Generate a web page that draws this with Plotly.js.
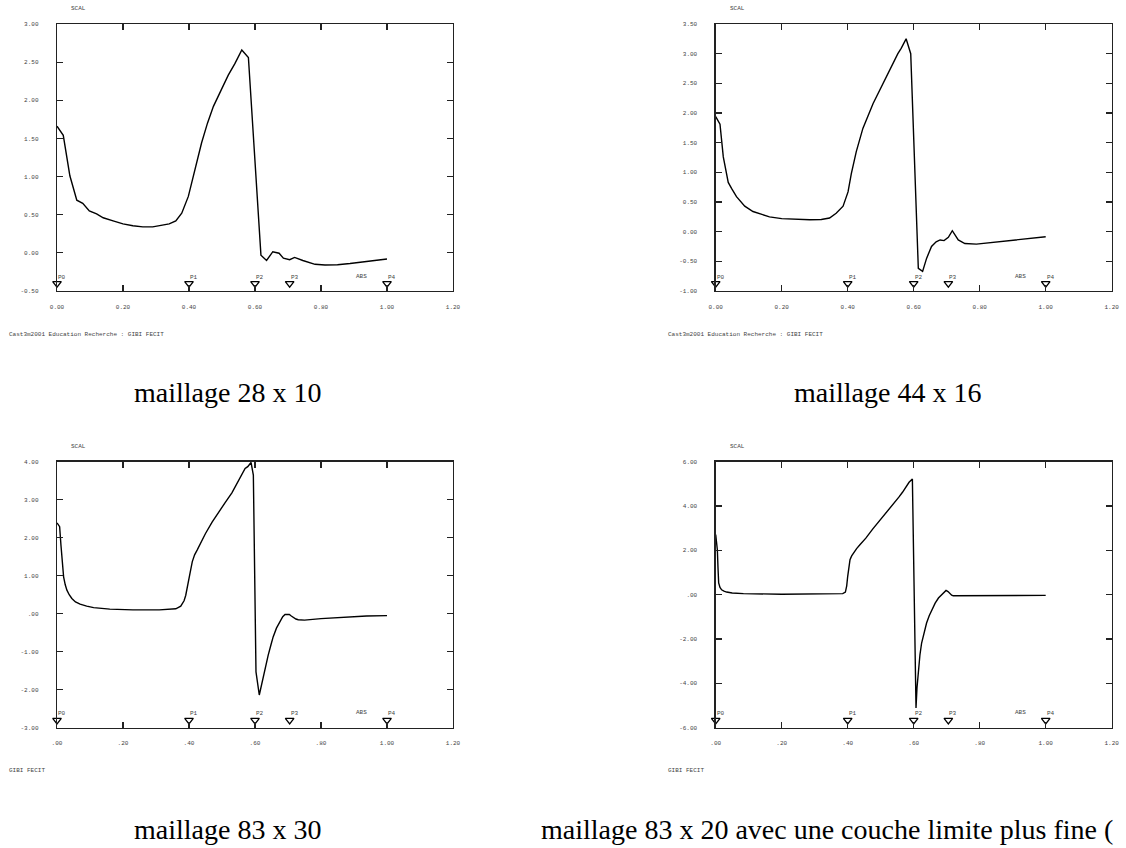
<!DOCTYPE html>
<html>
<head>
<meta charset="utf-8">
<script src="https://cdn.plot.ly/plotly-3.0.1.min.js"></script>
<style>html,body{margin:0;padding:0;background:#fff;}#chart{width:1126px;height:848px;}</style>
</head>
<body>
<div id="chart"></div>
<script>
// ---- data ----
var abs1 = [0.000,0.019,0.039,0.060,0.078,0.098,0.120,0.140,0.170,0.200,0.230,0.260,0.290,0.320,0.340,0.360,0.378,0.398,0.418,0.438,0.456,0.474,0.497,0.519,0.539,0.560,0.580,0.618,0.635,0.654,0.673,0.686,0.705,0.720,0.745,0.782,0.812,0.850,0.888,0.925,0.958,1.000];
var scal1 = [1.66,1.54,1.01,0.69,0.65,0.55,0.51,0.46,0.42,0.38,0.355,0.34,0.34,0.36,0.38,0.42,0.52,0.74,1.09,1.44,1.70,1.92,2.13,2.33,2.48,2.66,2.56,-0.03,-0.10,0.015,-0.005,-0.07,-0.09,-0.06,-0.10,-0.15,-0.16,-0.155,-0.14,-0.12,-0.10,-0.08];

var abs2 = [0.000,0.013,0.023,0.038,0.048,0.063,0.088,0.113,0.140,0.163,0.200,0.234,0.285,0.320,0.345,0.365,0.386,0.401,0.411,0.426,0.446,0.477,0.507,0.530,0.552,0.562,0.577,0.591,0.614,0.627,0.639,0.654,0.668,0.680,0.692,0.705,0.717,0.735,0.755,0.790,0.841,0.920,1.000];
var scal2 = [1.94,1.81,1.26,0.83,0.73,0.59,0.43,0.34,0.29,0.25,0.22,0.21,0.20,0.205,0.23,0.31,0.43,0.67,0.98,1.35,1.74,2.16,2.50,2.76,3.00,3.09,3.25,3.00,-0.62,-0.67,-0.45,-0.25,-0.17,-0.14,-0.15,-0.095,0.016,-0.14,-0.20,-0.21,-0.18,-0.13,-0.085];

var abs3 = [0.000,0.008,0.012,0.015,0.020,0.025,0.030,0.037,0.045,0.056,0.070,0.090,0.111,0.160,0.230,0.310,0.360,0.375,0.385,0.390,0.395,0.399,0.403,0.410,0.417,0.425,0.437,0.450,0.470,0.490,0.510,0.530,0.550,0.570,0.578,0.588,0.595,0.603,0.613,0.618,0.625,0.632,0.640,0.648,0.655,0.665,0.676,0.684,0.691,0.698,0.704,0.710,0.716,0.724,0.731,0.750,0.800,0.858,0.938,1.000];
var scal3 = [2.39,2.29,1.80,1.41,0.97,0.76,0.62,0.50,0.40,0.31,0.25,0.20,0.16,0.12,0.10,0.10,0.13,0.20,0.34,0.48,0.67,0.87,1.06,1.37,1.55,1.68,1.90,2.11,2.41,2.68,2.93,3.18,3.50,3.82,3.87,3.98,3.65,-1.53,-2.14,-1.95,-1.61,-1.33,-1.09,-0.83,-0.61,-0.38,-0.21,-0.08,-0.02,-0.01,-0.02,-0.06,-0.10,-0.14,-0.16,-0.17,-0.13,-0.10,-0.06,-0.05];

var abs4 = [0.000,0.005,0.007,0.009,0.013,0.018,0.025,0.033,0.050,0.084,0.200,0.300,0.366,0.385,0.393,0.397,0.400,0.404,0.407,0.412,0.417,0.427,0.437,0.455,0.475,0.495,0.515,0.535,0.555,0.566,0.576,0.586,0.596,0.607,0.610,0.614,0.619,0.624,0.631,0.639,0.647,0.655,0.665,0.675,0.687,0.698,0.704,0.710,0.715,0.720,0.800,0.900,1.000];
var scal4 = [2.71,2.03,1.20,0.53,0.33,0.22,0.16,0.12,0.08,0.05,0.02,0.02,0.03,0.05,0.12,0.40,0.83,1.30,1.58,1.75,1.88,2.08,2.25,2.55,2.95,3.30,3.65,4.00,4.40,4.62,4.85,5.07,5.22,-5.11,-4.20,-3.38,-2.70,-2.18,-1.70,-1.28,-0.95,-0.68,-0.38,-0.15,0.05,0.19,0.14,0.04,-0.02,-0.05,-0.05,-0.04,-0.03];

var pointNames = ["P0","P1","P2","P3","P4"];
var pointAbs = [0.0, 0.4, 0.6, 0.705, 1.0];

var xTickVals = [0,0.2,0.4,0.6,0.8,1.0,1.2];
var xTickTextA = ["0.00","0.20","0.40","0.60","0.80","1.00","1.20"];
var xTickTextB = [".00",".20",".40",".60",".80","1.00","1.20"];

var yTickVals1 = [-0.5,0,0.5,1,1.5,2,2.5,3];
var yTickText1 = ["-0.50","0.00","0.50","1.00","1.50","2.00","2.50","3.00"];
var yTickVals2 = [-1,-0.5,0,0.5,1,1.5,2,2.5,3,3.5];
var yTickText2 = ["-1.00","-0.50","0.00","0.50","1.00","1.50","2.00","2.50","3.00","3.50"];
var yTickVals3 = [-3,-2,-1,0,1,2,3,4];
var yTickText3 = ["-3.00","-2.00","-1.00",".00","1.00","2.00","3.00","4.00"];
var yTickVals4 = [-6,-4,-2,0,2,4,6];
var yTickText4 = ["-6.00","-4.00","-2.00",".00","2.00","4.00","6.00"];

var captions = ["maillage 28 x 10","maillage 44 x 16","maillage 83 x 30","maillage 83 x 20 avec une couche limite plus fine ("];
var footers = ["Cast3m2001 Education Recherche : GIBI FECIT","Cast3m2001 Education Recherche : GIBI FECIT","GIBI FECIT","GIBI FECIT"];

// ---- layout ----
var W = 1126, H = 848;
var monoFont = {family: "Liberation Mono, DejaVu Sans Mono, monospace", size: 6, color: "#444"};
var panels = [
  {x: abs1, y: scal1, yv: yTickVals1, yt: yTickText1, xt: xTickTextA, xd: [57, 453], yd: [24, 291]},
  {x: abs2, y: scal2, yv: yTickVals2, yt: yTickText2, xt: xTickTextA, xd: [715.7, 1111.7], yd: [24, 291]},
  {x: abs3, y: scal3, yv: yTickVals3, yt: yTickText3, xt: xTickTextB, xd: [57, 453], yd: [461.7, 727.7]},
  {x: abs4, y: scal4, yv: yTickVals4, yt: yTickText4, xt: xTickTextB, xd: [715.7, 1111.7], yd: [461.7, 727.7]}
];

var data = [];
var layout = {
  width: W, height: H,
  margin: {l: 0, r: 0, t: 0, b: 0},
  paper_bgcolor: "#fff", plot_bgcolor: "#fff",
  showlegend: false,
  annotations: []
};

panels.forEach(function(p, i) {
  var n = i + 1;
  var xa = n === 1 ? "x" : "x" + n;
  var ya = n === 1 ? "y" : "y" + n;
  var ymin = p.yv[0], ymax = p.yv[p.yv.length - 1];
  data.push({
    type: "scatter", mode: "lines", x: p.x, y: p.y, xaxis: xa, yaxis: ya,
    line: {color: "#000", width: 1.4}, hoverinfo: "skip"
  });
  // point markers sit just above the bottom frame
  var my = ymin + 0.028 * (ymax - ymin);
  data.push({
    type: "scatter", mode: "markers", x: pointAbs, y: pointAbs.map(function(){return my;}),
    xaxis: xa, yaxis: ya, cliponaxis: false,
    marker: {symbol: "triangle-down-open", size: 7.5, color: "#000", line: {width: 1.3, color: "#000"}},
    hoverinfo: "skip"
  });
  var axCommon = {
    showgrid: false, zeroline: false, showline: true, linecolor: "#222", linewidth: 1.3,
    mirror: "allticks", ticks: "inside", ticklen: 6, tickcolor: "#222", tickwidth: 1.2,
    tickfont: monoFont, tickmode: "array", fixedrange: true
  };
  layout["xaxis" + (n === 1 ? "" : n)] = Object.assign({}, axCommon, {
    domain: [p.xd[0] / W, p.xd[1] / W], range: [0, 1.2], anchor: ya,
    tickvals: xTickVals, ticktext: p.xt, ticklabelstandoff: 9
  });
  layout["yaxis" + (n === 1 ? "" : n)] = Object.assign({}, axCommon, {
    domain: [1 - p.yd[1] / H, 1 - p.yd[0] / H], range: [ymin, ymax], anchor: xa,
    tickvals: p.yv, ticktext: p.yt, ticklabelstandoff: 16
  });
  var xd = xa + " domain", yd = ya + " domain";
  // point labels
  pointNames.forEach(function(nm, k) {
    layout.annotations.push({xref: xa, yref: yd, x: pointAbs[k], y: 0, text: nm, showarrow: false,
      xanchor: "left", yanchor: "middle", yshift: 14, xshift: -1, font: monoFont});
  });
  layout.annotations.push({xref: xa, yref: yd, x: 0.9, y: 0, text: "ABS", showarrow: false,
    xanchor: "left", yanchor: "middle", yshift: 15, font: monoFont});
  layout.annotations.push({xref: xd, yref: yd, x: 0, y: 1, text: "SCAL", showarrow: false,
    xanchor: "left", yanchor: "middle", xshift: 12, yshift: 15, font: monoFont});
  layout.annotations.push({xref: xd, yref: yd, x: 0, y: 0, text: footers[i], showarrow: false,
    xanchor: "left", yanchor: "middle", xshift: -50, yshift: -43, font: monoFont});
});

// captions
var capFont = {family: "Liberation Serif, DejaVu Serif, serif", size: 28, color: "#000"};
var capTopY = 1 - 392 / H;
var capBotY = 1 - 829 / H;
layout.annotations.push({xref: "paper", yref: "paper", x: 227.5 / W, y: capTopY, text: captions[0], showarrow: false, xanchor: "center", yanchor: "middle", borderpad: 0, font: capFont});
layout.annotations.push({xref: "paper", yref: "paper", x: 887.5 / W, y: capTopY, text: captions[1], showarrow: false, xanchor: "center", yanchor: "middle", borderpad: 0, font: capFont});
layout.annotations.push({xref: "paper", yref: "paper", x: 227.5 / W, y: capBotY, text: captions[2], showarrow: false, xanchor: "center", yanchor: "middle", borderpad: 0, font: capFont});
layout.annotations.push({xref: "paper", yref: "paper", x: 540 / W, y: capBotY, text: captions[3], showarrow: false, xanchor: "left", yanchor: "middle", borderpad: 0, font: capFont});

Plotly.newPlot("chart", data, layout, {displayModeBar: false, staticPlot: true});
</script>
</body>
</html>
